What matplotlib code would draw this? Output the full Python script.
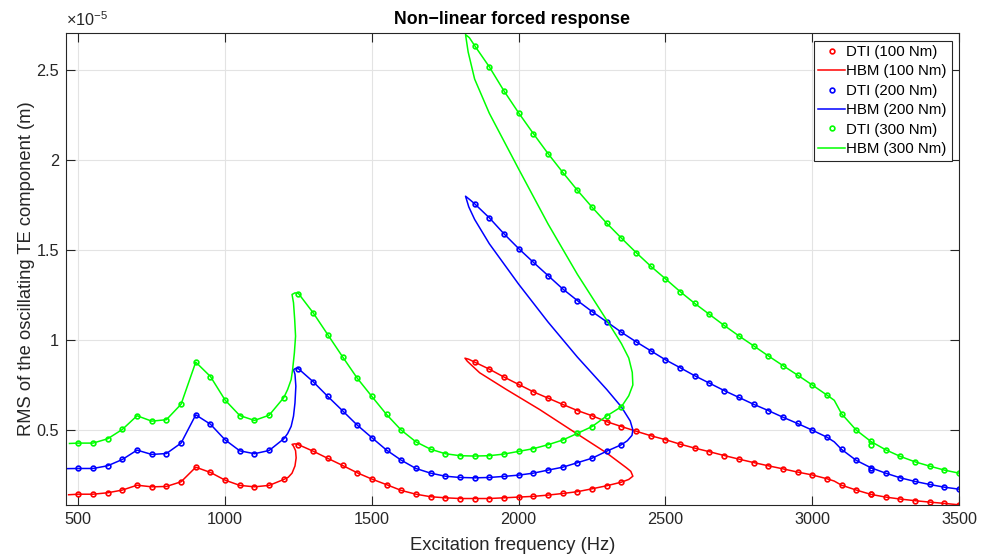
import numpy as np
import matplotlib
matplotlib.use("Agg")
import matplotlib.pyplot as plt
from matplotlib.ticker import FuncFormatter

plt.rcParams['font.family'] = ['Liberation Sans', 'DejaVu Sans']
plt.rcParams['mathtext.fontset'] = 'custom'
plt.rcParams['mathtext.rm'] = 'Liberation Sans'
plt.rcParams['mathtext.it'] = 'Liberation Sans:italic'

# values in units of 1e-5 m
lower_f = list(range(500, 2351, 50))    # sweep on the lower branch
upper_f = list(range(1850, 3501, 50))   # upper branch

red_lower = [0.143, 0.143, 0.151, 0.166, 0.193, 0.184, 0.186, 0.212, 0.293, 0.264, 0.221, 0.192, 0.184, 0.192, 0.225,
             0.418, 0.382, 0.342, 0.303, 0.262, 0.227, 0.196, 0.164,
             0.143, 0.129, 0.123, 0.119, 0.119, 0.119, 0.123, 0.127, 0.131, 0.138, 0.147, 0.157, 0.173, 0.190, 0.210]
red_upper = [0.877, 0.838, 0.794, 0.753, 0.712, 0.677, 0.642, 0.608, 0.579, 0.546, 0.519, 0.493, 0.468, 0.446,
             0.421, 0.399, 0.379, 0.358, 0.338, 0.319, 0.301, 0.284, 0.266, 0.250,
             0.229, 0.193, 0.166, 0.142, 0.127, 0.116, 0.107, 0.099, 0.092, 0.084]

blue_lower = [0.286, 0.286, 0.301, 0.336, 0.388, 0.364, 0.369, 0.427, 0.584, 0.532, 0.445, 0.384, 0.368, 0.386, 0.451,
              0.840, 0.768, 0.686, 0.607, 0.527, 0.457, 0.388, 0.332,
              0.286, 0.260, 0.243, 0.236, 0.234, 0.236, 0.242, 0.249, 0.260, 0.277, 0.293, 0.318, 0.343, 0.382, 0.418]
blue_upper = [1.757, 1.679, 1.590, 1.508, 1.432, 1.358, 1.284, 1.219, 1.158, 1.101, 1.043, 0.990, 0.940, 0.890,
              0.846, 0.801, 0.760, 0.719, 0.681, 0.643, 0.608, 0.571, 0.536, 0.499,
              0.460, 0.392, 0.331, 0.290, 0.260, 0.234, 0.214, 0.197, 0.182, 0.171]

green_lower = [0.427, 0.427, 0.451, 0.503, 0.579, 0.549, 0.557, 0.643, 0.877, 0.797, 0.666, 0.580, 0.553, 0.582, 0.680,
               1.258, 1.151, 1.029, 0.907, 0.788, 0.686, 0.586, 0.499,
               0.434, 0.393, 0.368, 0.357, 0.355, 0.357, 0.366, 0.381, 0.396, 0.418, 0.444, 0.481, 0.519, 0.578, 0.629]
green_upper = [2.636, 2.518, 2.384, 2.262, 2.147, 2.036, 1.932, 1.832, 1.738, 1.649, 1.566, 1.486, 1.410, 1.340,
               1.269, 1.203, 1.142, 1.081, 1.023, 0.968, 0.912, 0.858, 0.805, 0.750,
               0.694, 0.590, 0.499, 0.436, 0.390, 0.353, 0.323, 0.299, 0.277, 0.260]

# second DTI sweep differs slightly at 3200 Hz
extra_f = 3200
red_extra, blue_extra, green_extra = 0.142, 0.275, 0.414

# HBM curve details: start point, jump near 1240 Hz, fold + unstable branch, bend near 3075 Hz
red_start = (467, 0.140)
red_jump_f = [1215, 1228, 1238, 1242, 1240, 1233, 1228, 1238]
red_jump_v = [0.237, 0.260, 0.300, 0.345, 0.385, 0.410, 0.420, 0.423]
red_fold_f = [2375, 2389, 2382, 2367, 2299, 2185, 2071, 1958, 1867, 1825, 1817, 1830]
red_fold_v = [0.225, 0.243, 0.270, 0.290, 0.373, 0.493, 0.614, 0.725, 0.818, 0.882, 0.899, 0.893]
red_bend = 0.216

blue_start = (458, 0.285)
blue_jump_f = [1213, 1225, 1233, 1238, 1241, 1238, 1233, 1240]
blue_jump_v = [0.480, 0.520, 0.577, 0.650, 0.743, 0.810, 0.835, 0.842]
blue_fold_f = [2370, 2386, 2389, 2380, 2350, 2300, 2200, 2100, 2000, 1900, 1850, 1830, 1819, 1832]
blue_fold_v = [0.440, 0.470, 0.500, 0.550, 0.628, 0.725, 0.905, 1.100, 1.310, 1.535, 1.670, 1.740, 1.799, 1.782]
blue_bend = 0.434

green_start = (470, 0.425)
green_jump_f = [1213, 1225, 1230, 1236, 1240, 1237, 1233, 1228, 1238]
green_jump_v = [0.725, 0.780, 0.836, 0.929, 1.021, 1.114, 1.207, 1.253, 1.262]
green_fold_f = [2375, 2389, 2387, 2375, 2350, 2300, 2200, 2100, 2000, 1900, 1850, 1828, 1819, 1832]
green_fold_v = [0.690, 0.750, 0.820, 0.900, 0.980, 1.110, 1.365, 1.645, 1.950, 2.260, 2.450, 2.600, 2.697, 2.680]
green_bend = 0.665

bend_f = 3075

series = [
    ('100 Nm', (1, 0, 0), red_lower, red_upper, red_extra, red_start, red_jump_f, red_jump_v, red_fold_f, red_fold_v, red_bend),
    ('200 Nm', (0, 0, 1), blue_lower, blue_upper, blue_extra, blue_start, blue_jump_f, blue_jump_v, blue_fold_f, blue_fold_v, blue_bend),
    ('300 Nm', (0, 1, 0), green_lower, green_upper, green_extra, green_start, green_jump_f, green_jump_v, green_fold_f, green_fold_v, green_bend),
]

fig = plt.figure(figsize=(9.84, 5.54), dpi=100)
ax = fig.add_axes([66/984, 1 - 505/554, (959 - 66)/984, (505 - 33)/554])

for name, col, lo, up, ex, st, jf, jv, ff, fv, bv in series:
    dti_f = lower_f + upper_f + [extra_f]
    dti_v = lo + up + [ex]
    ax.plot(dti_f, dti_v, 'o', color=col, mfc='none', ms=3.4, mew=1.2, label='DTI (' + name + ')')
    hf = [st[0]] + lower_f[:15] + jf + lower_f[15:] + ff + upper_f[:25] + [bend_f] + upper_f[25:]
    hv = [st[1]] + lo[:15] + jv + lo[15:] + fv + up[:25] + [bv] + up[25:]
    ax.plot(hf, hv, '-', color=col, lw=1.1, label='HBM (' + name + ')')

ax.set_xlim(458, 3500)
ax.set_ylim(0.083, 2.706)
ax.set_xticks(np.arange(500, 3501, 500))
ax.set_yticks([0.5, 1, 1.5, 2, 2.5])
ax.yaxis.set_major_formatter(FuncFormatter(lambda v, p: '%g' % v))
ax.grid(True, color='#e3e3e3', lw=0.8)
ax.set_axisbelow(True)
ax.tick_params(direction='in', top=True, right=True, length=6.5, width=0.8,
               colors='#262626', labelsize=11.7, pad=5)
for s in ax.spines.values():
    s.set_color('#262626')
    s.set_linewidth(0.8)

ax.set_xlabel('Excitation frequency (Hz)', fontsize=13.2, color='#262626', labelpad=7)
ax.set_ylabel('RMS of the oscillating TE component (m)', fontsize=13.2, color='#262626', labelpad=1)
ax.set_title('Non\u2212linear forced response', fontsize=12.8, fontweight='bold', pad=6.5)
ax.text(0, 1.008, r'$\times10^{-5}$', transform=ax.transAxes, fontsize=11.7,
        color='#262626', ha='left', va='bottom')

leg = ax.legend(loc='upper right', fontsize=10.8, frameon=True, fancybox=False,
                edgecolor='#262626', framealpha=1, borderpad=0.3, labelspacing=0.36,
                handlelength=1.8, handletextpad=0.1, borderaxespad=0.5)
leg.get_frame().set_linewidth(0.8)

fig.savefig('out.png', dpi=100)
